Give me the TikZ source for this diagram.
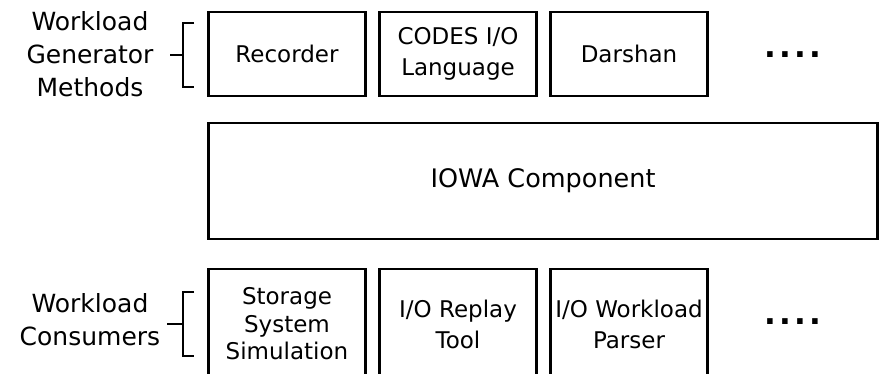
\documentclass[tikz,border=0pt]{standalone}
\usepackage{fontspec}
\setmainfont{DejaVu Sans}
\usetikzlibrary{positioning}

\begin{document}
\begin{tikzpicture}[x=1pt,y=-1pt,node distance=14pt]
  \tikzstyle{every node}=[outer sep=0pt]
  \tikzstyle{block}=[draw=black,line width=2.4pt,minimum width=157pt,minimum height=84pt,inner sep=2pt,align=center,font=\fontsize{23}{31}\selectfont]
  \tikzstyle{tall block}=[block,minimum height=110pt]
  \tikzstyle{group}=[align=center,font=\fontsize{25}{33}\selectfont]
  \tikzstyle{more}=[inner sep=0pt,font=\fontsize{31}{31}\selectfont\bfseries\addfontfeature{LetterSpace=10}]
  \tikzstyle{brace}=[line width=1.8pt]
  \useasboundingbox (0,0) rectangle (882,374);
  \clip (0,0) rectangle (882,374);
  % generator methods
  \node[block]      (rec) at (287,54)          {Recorder};
  \node[block]      (codes)[right=of rec]      {CODES I/O\\Language};
  \node[block]      (dar)[right=of codes]      {Darshan};
  \node[more]       (gdots)[right=57pt of dar,yshift=-1pt] {....};
  % IOWA
  \node[block,minimum width=669pt,minimum height=116pt,font=\fontsize{25.5}{31}\selectfont]
                    (iowa)[below right=27pt and 0pt of rec.south west] {IOWA Component};
  % consumers
  \node[tall block,font=\fontsize{23}{27.5}\selectfont]
                    (sim)[below right=30pt and 0pt of iowa.south west] {Storage\\System\\Simulation};
  \node[tall block] (replay)[right=of sim]     {I/O Replay\\Tool};
  \node[tall block] (parse)[right=of replay]   {I/O Workload\\Parser};
  \node[more]       (cdots)[right=57pt of parse,yshift=2pt] {....};
  % group labels
  \node[group]      (genlbl) at (90,54)        {Workload\\Generator\\Methods};
  \node[group]      (conlbl) at (90,320)       {Workload\\Consumers};
  % brackets
  \coordinate (gtop) at (194,23);
  \coordinate (gmid) at (183,55);
  \coordinate (gbot) at (194,87);
  \coordinate (ctop) at (194,292);
  \coordinate (cmid) at (183,324);
  \coordinate (cbot) at (194,356);
  \draw[brace] (gtop) -| (gmid) |- (gbot);
  \draw[brace] (gmid) -- ++(-13,0);
  \draw[brace] (ctop) -| (cmid) |- (cbot);
  \draw[brace] (cmid) -- ++(-16,0);
\end{tikzpicture}
\end{document}
